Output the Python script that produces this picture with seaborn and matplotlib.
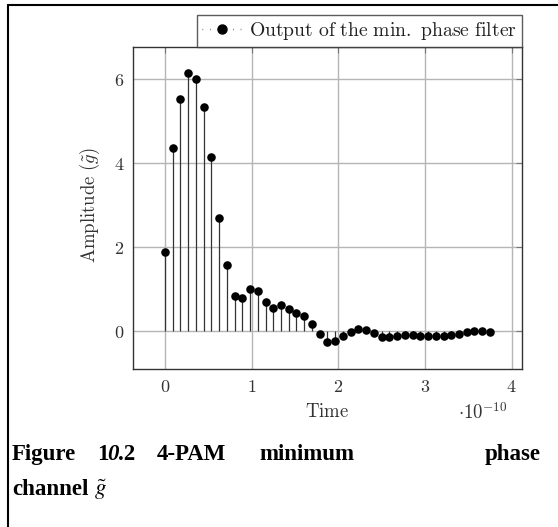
import matplotlib
matplotlib.use("Agg")
import matplotlib.pyplot as plt
import seaborn as sns
import pandas as pd
from matplotlib.lines import Line2D

# ---- data (time in units of 1e-10 s) ----
time_e10 = [0.000, 0.089, 0.179, 0.268, 0.357, 0.446, 0.536, 0.625, 0.714, 0.804,
            0.893, 0.982, 1.071, 1.161, 1.250, 1.339, 1.429, 1.518, 1.607, 1.696,
            1.786, 1.875, 1.964, 2.054, 2.143, 2.232, 2.321, 2.411, 2.500, 2.589,
            2.679, 2.768, 2.857, 2.946, 3.036, 3.125, 3.214, 3.304, 3.393, 3.482,
            3.571, 3.661, 3.750]
amplitude = [1.89, 4.37, 5.53, 6.14, 6.00, 5.33, 4.15, 2.70, 1.57, 0.84,
             0.78, 0.99, 0.96, 0.70, 0.54, 0.62, 0.53, 0.44, 0.37, 0.16,
             -0.08, -0.25, -0.24, -0.12, -0.02, 0.04, 0.02, -0.04, -0.13, -0.15,
             -0.12, -0.10, -0.10, -0.12, -0.12, -0.12, -0.11, -0.10, -0.06, -0.02,
             0.01, 0.00, -0.02]
x_ticks = [0, 1, 2, 3, 4]
y_ticks = [0, 2, 4, 6]
legend_label = r"$\mathrm{Output\ of\ the\ min.\ phase\ filter}$"

df = pd.DataFrame({"t": time_e10, "a": amplitude})

sns.set_style("white")
plt.rcParams["font.family"] = ["DejaVu Serif"]
plt.rcParams["mathtext.fontset"] = "cm"

W, H = 558, 527
fig = plt.figure(figsize=(W / 100, H / 100), dpi=100)
ax = fig.add_axes([132.7 / W, 1 - 369.3 / H, (522 - 132.7) / W, (369.3 - 46.7) / H])

# stems
ax.vlines(df["t"], 0, df["a"], colors="#333333", linewidth=0.9, zorder=2)
# markers
sns.scatterplot(data=df, x="t", y="a", ax=ax, color="black", s=38,
                edgecolor="black", linewidth=0, zorder=3, legend=False)

ax.set_xlim(-0.371, 4.119)
ax.set_ylim(-0.91, 6.77)
ax.set_xticks(x_ticks)
ax.set_yticks(y_ticks)
ax.set_xticklabels([f"${v}$" for v in x_ticks], fontsize=13, color="#333333")
ax.set_yticklabels([f"${v}$" for v in y_ticks], fontsize=13, color="#333333")
ax.grid(True, color="#b5b5b5", linewidth=1.0, zorder=0)
ax.set_axisbelow(True)
ax.tick_params(axis="both", direction="in", length=4, width=0.8, color="#777777",
               top=True, right=True, pad=6)
for sp in ax.spines.values():
    sp.set_color("#333333")
    sp.set_linewidth(1.0)
    sp.set_visible(True)
ax.set_xlabel("")
ax.set_ylabel("")

# axis labels
fig.text(327 / W, 1 - 411.7 / H, r"$\mathrm{Time}$", fontsize=13.5, color="#333333",
         ha="center", va="center")
fig.text(483 / W, 1 - 413 / H, r"$\cdot 10^{-10}$", fontsize=13.5, color="#333333",
         ha="center", va="center")
fig.text(90 / W, 1 - 205 / H, r"$\mathrm{Amplitude}\ (\tilde{g})$", fontsize=13.5,
         color="#333333", ha="center", va="center", rotation=90)

# legend
handle = Line2D([0], [0], color="#555555", linestyle=(0, (0.5, 5)), linewidth=1.0,
                marker="o", markersize=6.5, markerfacecolor="black", markeredgecolor="black")
leg = ax.legend([handle], [legend_label], loc="lower right",
                bbox_to_anchor=(1.0, 1.0), borderaxespad=0, frameon=True,
                fancybox=False, edgecolor="#333333", fontsize=14.2,
                handlelength=2.0, handletextpad=0.4, borderpad=0.25)
leg.get_frame().set_linewidth(1.0)
for t in leg.get_texts():
    t.set_color("#222222")

# page border lines (table cell)
fig.add_artist(Line2D([8 / W, 1.0], [1 - 5 / H, 1 - 5 / H], color="black", linewidth=1.5))
fig.add_artist(Line2D([8 / W, 8 / W], [0, 1 - 5 / H], color="black", linewidth=1.5))

# caption
cap_kw = dict(fontsize=16.5, fontweight="bold", family="Liberation Serif",
              va="baseline", color="black")
y1 = 1 - 460 / H
y2 = 1 - 495 / H
fig.text(12 / W, y1, "Figure", **cap_kw)
fig.text(97 / W, y1, "1", **cap_kw)
fig.text(107.5 / W, y1, "0", fontstyle="italic", **cap_kw)
fig.text(118 / W, y1, ".2", **cap_kw)
fig.text(157 / W, y1, "4-PAM", **cap_kw)
fig.text(259 / W, y1, "minimum", **cap_kw)
fig.text(541 / W, y1, "phase", ha="right", **cap_kw)
fig.text(12 / W, y2, "channel", **cap_kw)
fig.text(94 / W, y2, r"$\tilde{g}$", fontsize=16.5, va="baseline", color="black",
         math_fontfamily="stix")

fig.savefig("out.png", dpi=100)
